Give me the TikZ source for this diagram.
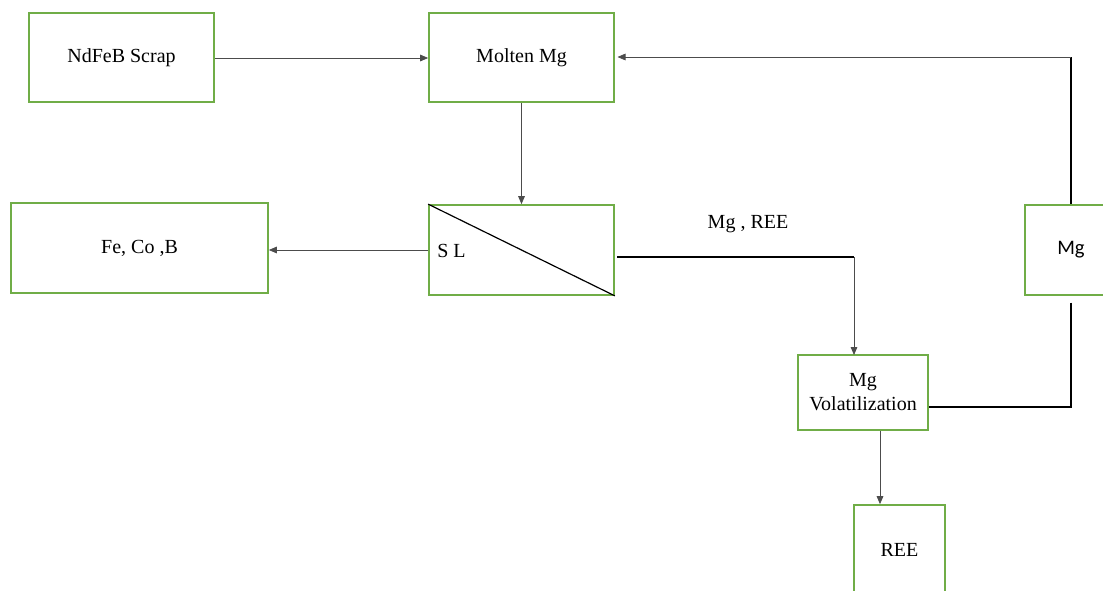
\documentclass[tikz,border=0pt]{standalone}
\usepackage{fontspec}
\setmainfont{Liberation Serif}
\newfontfamily\calibfont{Carlito}
\usetikzlibrary{arrows.meta}
\definecolor{boxgreen}{HTML}{70AD47}
\begin{document}
\begin{tikzpicture}[x=0.75pt,y=-0.75pt,
  box/.style={draw=boxgreen,line width=1.3pt,fill=white,inner sep=0pt,align=center,font=\fontsize{15}{18}\selectfont},
  thinarrow/.style={draw=black!70,line width=0.6pt,-{Triangle[length=6pt,width=5pt]}},
  thickline/.style={draw=black,line width=1.1pt},
  lbl/.style={font=\fontsize{15}{18}\selectfont,inner sep=0pt}]
\useasboundingbox (0,0) rectangle (1103,590);
% boxes
\node[box,minimum width=139pt,minimum height=66.75pt] (scrap) at (121.5,57.5) {NdFeB Scrap};
\node[box,minimum width=138.75pt,minimum height=66.75pt] (molten) at (521.5,57.5) {Molten Mg};
\node[box,minimum width=138.75pt,minimum height=67.5pt] (sl) at (521.5,250) {};
\node[box,minimum width=192.75pt,minimum height=67.5pt] (fe) at (139.5,248) {Fe, Co ,B};
\node[box,minimum width=69pt,minimum height=67.5pt,font=\calibfont\fontsize{15.5}{18}\selectfont] (mg) at (1071,250) {Mg};
\node[box,minimum width=97.5pt,minimum height=56.25pt] (vol) at (863,392.5) {Mg\\Volatilization};
\node[box,minimum width=68.25pt,minimum height=67.5pt] (ree) at (899.5,550) {REE};
% separator inside S/L box
\draw[black,line width=0.9pt] (sl.north west) -- (sl.south east);
\node[lbl,anchor=west] (sltext) at (437,251) {S L};
\node[lbl] (mgree) at (748,224) {Mg , REE};
% coordinates
\coordinate (ctop) at (1071,57);
\coordinate (cbot) at (1071,407);
\coordinate (cslr) at (617,257);
\coordinate (csplit) at (854,257);
\coordinate (cvin) at (854,355);
% connectors
\draw[thinarrow] (scrap.east |- 0,58) -- (molten.west |- 0,58);
\draw[thinarrow] (molten.south) -- (sl.north);
\draw[thinarrow] (sl.west |- 0,250) -- (fe.east |- 0,250);
\draw[thickline] (cslr) -- (csplit);
\draw[thinarrow] (csplit) -- (cvin);
\draw[thinarrow] (vol.south -| 880,0) -- (ree.north -| 880,0);
\draw[thickline] (mg.north) -- (ctop);
\draw[thinarrow] (ctop) -- ([xshift=2pt]molten.east |- ctop);
\draw[thickline,shorten <=5pt] (mg.south) -- (cbot) -- (vol.east |- cbot);
\end{tikzpicture}
\end{document}
